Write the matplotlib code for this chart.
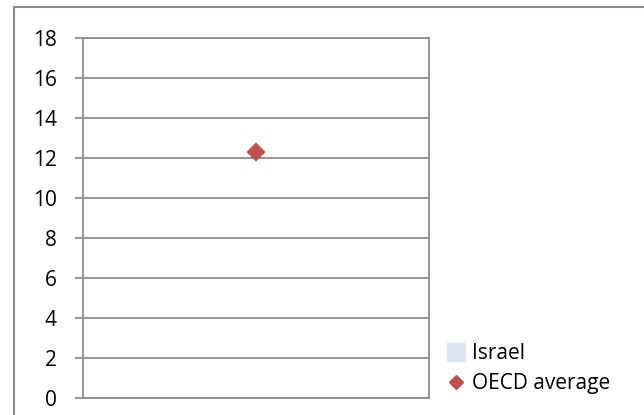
import numpy as np
import matplotlib.pyplot as plt
from matplotlib.lines import Line2D
from matplotlib.patches import Rectangle

# chart data
categories = [""]
israel = [np.nan]
oecd_average = [12.3]
y_ticks = [0, 2, 4, 6, 8, 10, 12, 14, 16, 18]

plt.rcParams['font.family'] = ['Open Sans', 'DejaVu Sans']

fig = plt.figure(figsize=(6.44, 4.15), dpi=100)
ax = fig.add_axes([83 / 644, 17 / 415, 346 / 644, 360 / 415])

x = np.arange(len(categories))
ax.bar(x, israel, width=0.6, color="#dbe5f1")
ax.scatter(x, oecd_average, marker="D", s=95, color="#c0504d",
           edgecolors="none", zorder=3)

ax.set_xlim(-0.5, 0.5)
ax.set_ylim(0, 18)
ax.set_yticks(y_ticks)
ax.set_xticks([])
ax.yaxis.grid(True, color="#8c8c8c", linewidth=1.3)
ax.set_axisbelow(True)
for s in ax.spines.values():
    s.set_color("#8c8c8c")
    s.set_linewidth(1.3)
ax.tick_params(axis="y", length=6, width=1.3, color="#8c8c8c",
               labelsize=15, pad=13)

handles = [
    Line2D([], [], linestyle="none", marker="s", markersize=13,
           color="#dbe5f1", label="Israel"),
    Line2D([], [], linestyle="none", marker="D", markersize=7,
           color="#c0504d", label="OECD average"),
]
fig.legend(handles=handles, loc="upper left",
           bbox_to_anchor=(447 / 644, 1 - 343 / 415),
           frameon=False, fontsize=15, handlelength=0.9, handletextpad=0.3,
           labelspacing=0.45, borderaxespad=0, borderpad=0)

# chart area border
fig.patches.append(Rectangle((13.5 / 644, -0.05), 1.2, 1 - 7.5 / 415 + 0.05,
                             transform=fig.transFigure, fill=False,
                             edgecolor="#8c8c8c", linewidth=1.5))

fig.savefig("out.png", dpi=100)
